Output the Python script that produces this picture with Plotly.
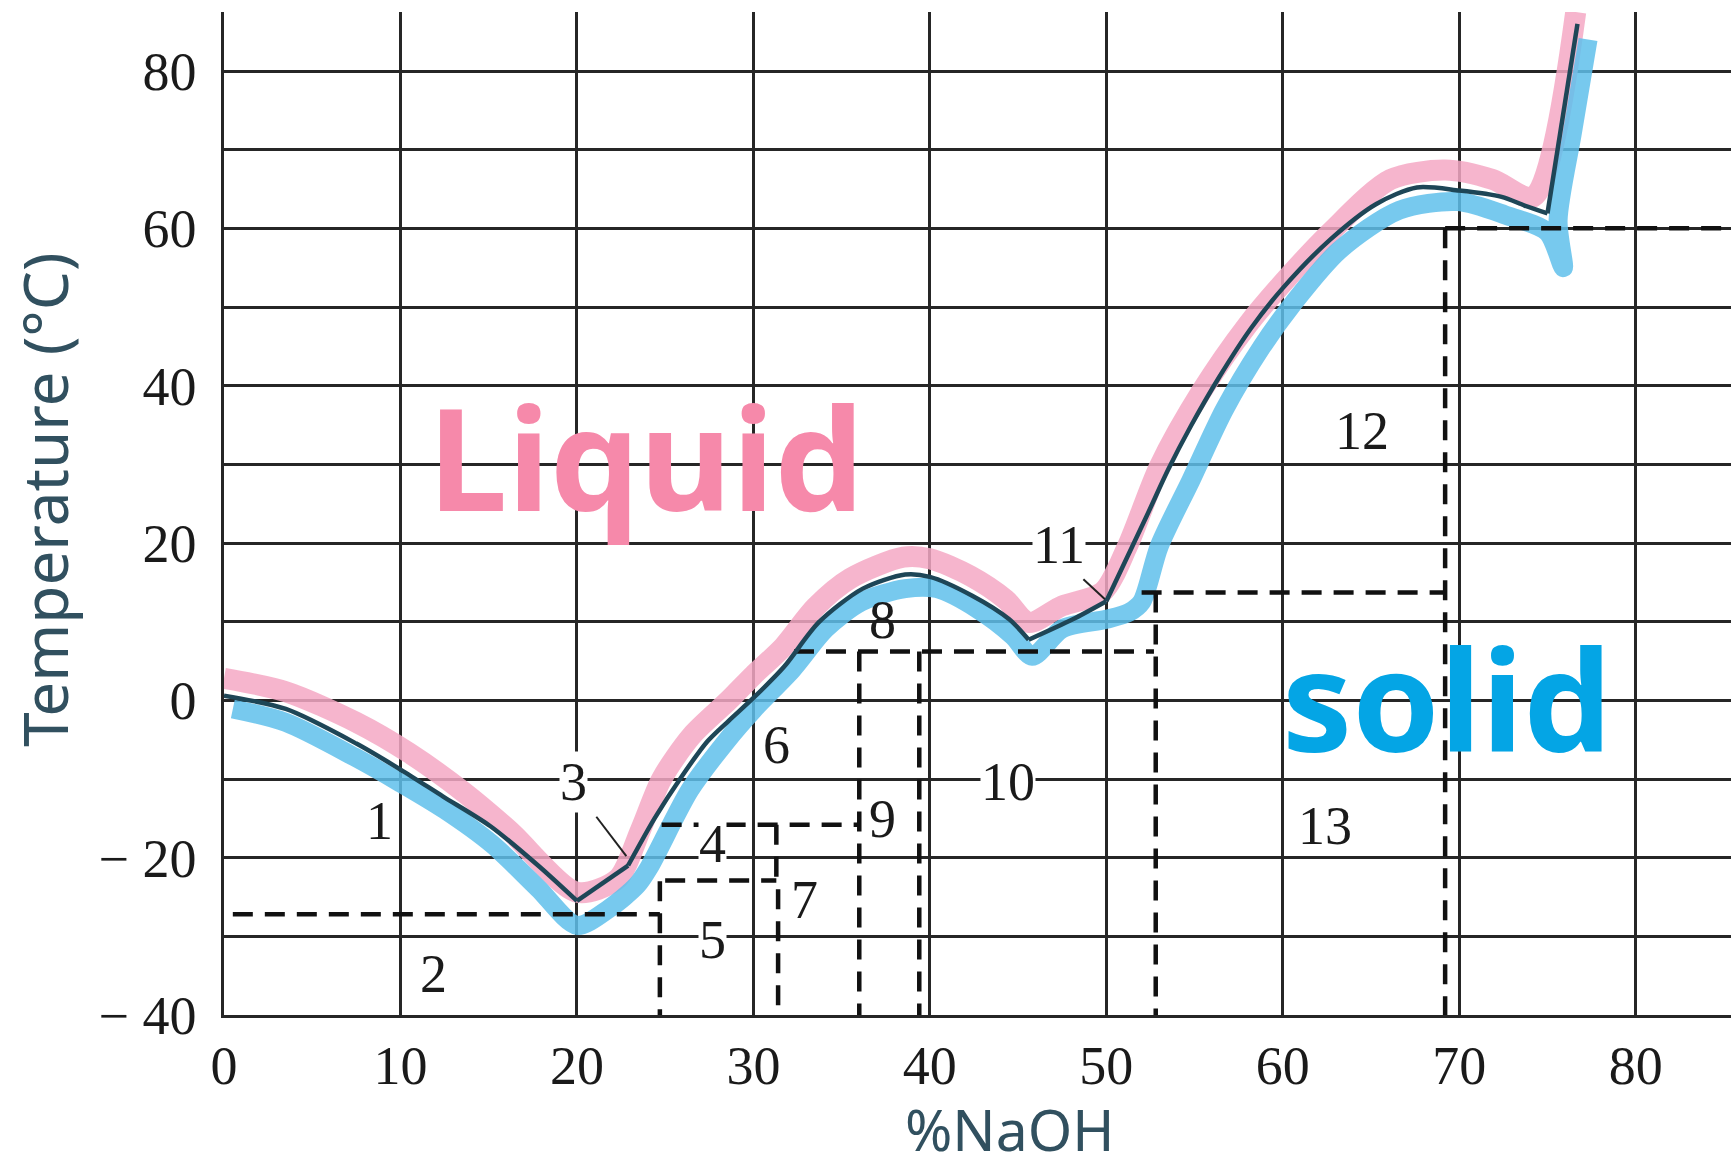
import plotly.graph_objects as go

# ---- liquidus curve (dark centre line); None separates the smooth branches between kinks ----
liq_x = [0, 3.5, 7.5, 10, 12.4, 15.1, 17.8, 20, None,
         20, 22.9, None,
         22.9, 24.4, 25.9, 27.4, 28.6, 30, 31.75, 33.7, 36.2, 38.6, 40, 42.4, 44.5, 45.6, None,
         45.6, 48.1, 50, None,
         50, 52.3, 53.5, 54.8, 56.4, 58.2, 60, 62.7, 65.3, 67.6, 70, 72.4, 73.7, 75.0, None,
         75.0, 76.7]
liq_y = [0.6, -1.1, -5.5, -8.8, -12.2, -16.0, -21.0, -25.5, None,
         -25.5, -21.0, None,
         -21.0, -15.0, -9.8, -5.2, -2.6, 0.3, 4.3, 9.9, 14.2, 16.0, 15.7, 13.3, 10.3, 7.7, None,
         7.7, 10.3, 12.6, None,
         12.6, 23.5, 29.3, 34.9, 41.1, 47.3, 52.4, 58.6, 63.1, 65.2, 64.8, 64.0, 62.9, 61.9, None,
         61.9, 86.0]

# ---- pink highlighter stroke (liquid side) ----
pink_x = [0, 3.5, 7.5, 10.5, 13.6, 16.2, 20, 22.3, 23.6, 24.8, 26.5, 28.6, 30, 31.7, 33.5, 35.5,
          38.5, 40, 42.3, 44.3, 45.6, 47.5, 49.8, 51.2, 53, 55.4, 58, 60.1, 62.7, 66.1, 69.2,
          71.9, 74.2, 76.6]
pink_y = [2.8, 1.1, -2.8, -6.7, -11.7, -16.6, -24.4, -22.7, -16.5, -10.0, -4.5, 0.0, 3.2, 6.8,
          11.8, 15.5, 18.2, 18.0, 15.8, 12.8, 9.9, 12.0, 13.8, 19.6, 29.7, 39.3, 47.7, 53.3, 59.5,
          66.2, 67.4, 66.2, 64.0, 87.5]

# ---- blue highlighter stroke (solid side) ----
blue_x = [0.5, 3.5, 7.4, 10, 12.5, 15.2, 17.8, 20, 21.8, 23.4, 24.1, 26.4, 28.5, 30, 32.2, 34.1,
          36.1, 38.6, 40.4, 42.7, 44.7, 45.8, 47.5, 50, 51.3, 52.0, 53, 54.8, 56.7, 58.8, 60.6,
          63.2, 66.6, 69.9, 72.6, 75.0, 75.9, 75.6, 76.4, 77.3]
blue_y = [-1.1, -2.8, -7.2, -10.5, -13.9, -18.3, -23.9, -28.6, -26.5, -23.5, -21.2, -11.4, -5.1,
          -1.2, 3.9, 9.1, 12.5, 14.2, 14.2, 11.6, 8.2, 5.6, 9.1, 10.3, 11.2, 12.5, 19.6, 28.0,
          37.0, 44.9, 50.5, 57.2, 62.3, 63.4, 61.7, 59.5, 55.0, 61.0, 72.0, 84.0]

# ---- dashed phase-boundary lines (segments separated by None) ----
dash_x = [0.5, 24.7, None, 24.7, 24.7, None, 25.0, 31.3, None, 24.8, 36.0, None, 31.3, 31.3, None,
          31.4, 31.4, None, 36.0, 36.0, None, 39.4, 39.4, None, 32.3, 52.7, None, 52.8, 52.8, None,
          52.0, 69.2, None, 69.2, 69.2, None, 69.2, 86.0]
dash_y = [-27.2, -27.2, None, -23.0, -40, None, -22.9, -22.9, None, -15.8, -15.8, None, -15.8, -22.9,
          None, -24.0, -40, None, 6.2, -40, None, 6.2, -40, None, 6.2, 6.2, None, 13.7, -40, None,
          13.7, 13.7, None, 60.0, -40, None, 60.0, 60.0]

# ---- leader lines for labels 3 and 11 ----
lead_x = [21.1, 22.8, None, 48.7, 50.0]
lead_y = [-14.8, -19.8, None, 15.4, 12.7]

# ---- region numbers ----
lab_text = ["1", "2", "3", "4", "5", "6", "7", "8", "9", "10", "11", "12", "13"]
lab_x = [8.8, 11.9, 19.8, 27.7, 27.7, 31.3, 32.9, 37.3, 37.3, 44.4, 47.3, 64.5, 62.4]
lab_y = [-15.3, -34.8, -10.4, -18.2, -30.5, -5.7, -25.4, 10.2, -15.1, -10.4, 19.7, 34.2, -16.0]
lab_bg = [False, False, True, True, True, False, False, False, False, True, True, False, False]

# ---- axis ticks ----
x_ticks = [0, 10, 20, 30, 40, 50, 60, 70, 80]
y_ticks = [-40, -30, -20, -10, 0, 10, 20, 30, 40, 50, 60, 70, 80]
y_tick_text = ["\u2212 40", "", "\u2212 20", "", "0", "", "20", "", "40", "", "60", "", "80"]

GRID = "#262626"
SERIF = "Liberation Serif"
SANS = "Noto Sans"

fig = go.Figure()
fig.add_trace(go.Scatter(x=pink_x, y=pink_y, mode="lines",
                         line=dict(color="rgba(244,168,196,0.85)", width=21, shape="spline",
                                   smoothing=0.8), hoverinfo="skip"))
fig.add_trace(go.Scatter(x=blue_x, y=blue_y, mode="lines",
                         line=dict(color="rgba(95,192,235,0.85)", width=19, shape="spline",
                                   smoothing=0.8), hoverinfo="skip"))
fig.add_trace(go.Scatter(x=dash_x, y=dash_y, mode="lines",
                         line=dict(color="#111111", width=4.5, dash="20px,12px"), hoverinfo="skip"))
fig.add_trace(go.Scatter(x=lead_x, y=lead_y, mode="lines",
                         line=dict(color="#222222", width=2), hoverinfo="skip"))
fig.add_trace(go.Scatter(x=liq_x, y=liq_y, mode="lines",
                         line=dict(color="#1e4657", width=4.5, shape="spline", smoothing=0.8),
                         hoverinfo="skip"))

annotations = []
for t, x, y, bg in zip(lab_text, lab_x, lab_y, lab_bg):
    annotations.append(dict(x=x, y=y, xref="x", yref="y", text=t, showarrow=False,
                            font=dict(family=SERIF, size=54, color="#1a1a1a"),
                            bgcolor="white" if bg else None, borderpad=0))

annotations.append(dict(x=23.9, y=31.0, xref="x", yref="y", text="<b>Liquid</b>", showarrow=False,
                        font=dict(family=SANS, size=142, color="#f689aa")))
annotations.append(dict(x=69.3, y=0.3, xref="x", yref="y", text="<b>solid</b>", showarrow=False,
                        font=dict(family=SANS, size=140, color="#04a5e5")))
annotations.append(dict(x=-0.1194, y=25.5, xref="paper", yref="y", text="Temperature (°C)",
                        textangle=-90, showarrow=False, xanchor="center", yanchor="middle",
                        font=dict(family=SANS, size=62, color="#31505f")))
annotations.append(dict(x=44.5, y=-0.1137, xref="x", yref="paper", text="%NaOH",
                        showarrow=False, xanchor="center", yanchor="middle",
                        font=dict(family=SANS, size=57, color="#31505f")))

fig.update_layout(
    width=1731, height=1173,
    margin=dict(l=224, r=0, t=12, b=158),
    plot_bgcolor="white", paper_bgcolor="white",
    showlegend=False,
    annotations=annotations,
    xaxis=dict(range=[0, 85.4], tickmode="array", tickvals=x_ticks,
               ticktext=[str(v) for v in x_ticks],
               showgrid=True, gridcolor=GRID, gridwidth=2.5, zeroline=False,
               showline=True, linecolor=GRID, linewidth=2.5,
               ticks="outside", ticklen=1, tickcolor="rgba(0,0,0,0)",
               tickfont=dict(family=SERIF, size=54, color="#1a1a1a")),
    yaxis=dict(range=[-40, 87.5], tickmode="array", tickvals=y_ticks, ticktext=y_tick_text,
               showgrid=True, gridcolor=GRID, gridwidth=2.5, zeroline=False,
               showline=True, linecolor=GRID, linewidth=2.5,
               ticks="outside", ticklen=14, tickcolor="rgba(0,0,0,0)",
               tickfont=dict(family=SERIF, size=54, color="#1a1a1a")),
)

fig.write_html("out.html")
